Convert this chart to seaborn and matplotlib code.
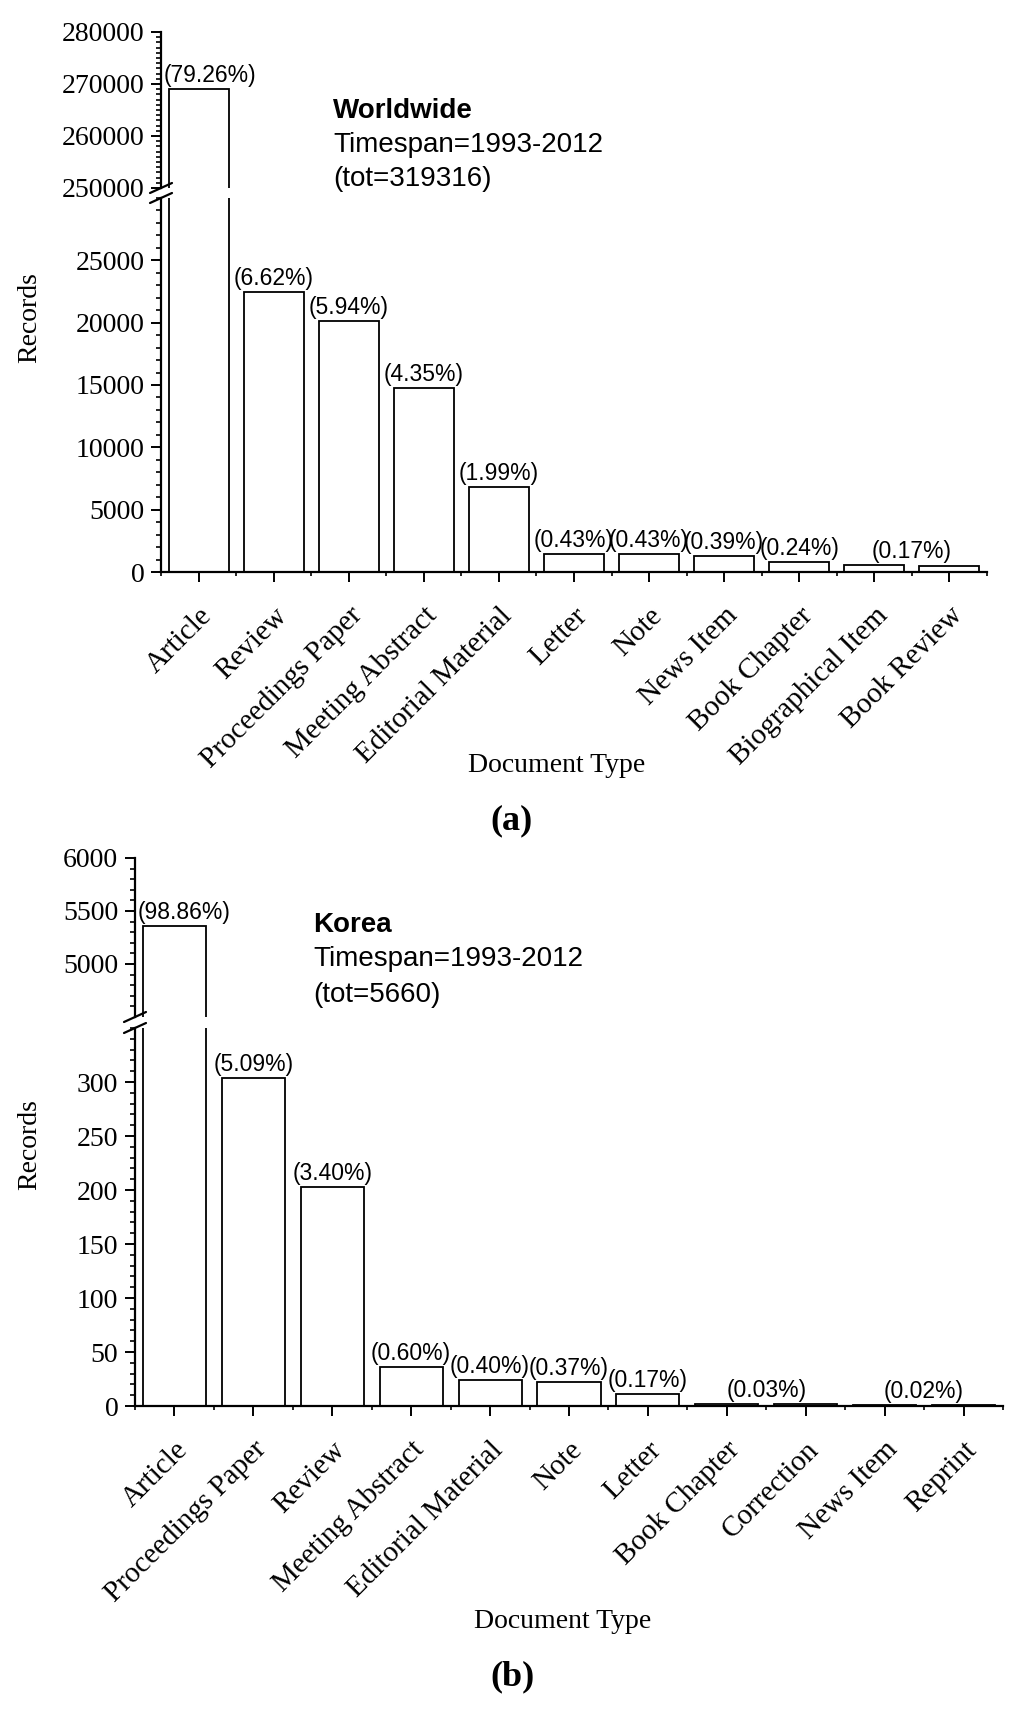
import numpy as np
import pandas as pd
import matplotlib.pyplot as plt
from matplotlib.lines import Line2D
import seaborn as sns

# ---- data (a) worldwide ----
ww_types = ["Article", "Review", "Proceedings Paper", "Meeting Abstract", "Editorial Material",
            "Letter", "Note", "News Item", "Book Chapter", "Biographical Item", "Book Review"]
ww_records = [269000, 22450, 20150, 14750, 6800, 1450, 1430, 1310, 780, 560, 510]
ww_labels = [(["Article"], "(79.26%)"), (["Review"], "(6.62%)"), (["Proceedings Paper"], "(5.94%)"),
             (["Meeting Abstract"], "(4.35%)"), (["Editorial Material"], "(1.99%)"),
             (["Letter"], "(0.43%)"), (["Note"], "(0.43%)"), (["News Item"], "(0.39%)"),
             (["Book Chapter"], "(0.24%)"), (["Biographical Item", "Book Review"], "(0.17%)")]

# ---- data (b) Korea ----
kr_types = ["Article", "Proceedings Paper", "Review", "Meeting Abstract", "Editorial Material",
            "Note", "Letter", "Book Chapter", "Correction", "News Item", "Reprint"]
kr_records = [5358, 304, 203, 36, 24, 22, 11, 2, 2, 1, 1]
kr_labels = [(["Article"], "(98.86%)"), (["Proceedings Paper"], "(5.09%)"), (["Review"], "(3.40%)"),
             (["Meeting Abstract"], "(0.60%)"), (["Editorial Material"], "(0.40%)"),
             (["Note"], "(0.37%)"), (["Letter"], "(0.17%)"),
             (["Book Chapter", "Correction"], "(0.03%)"), (["News Item", "Reprint"], "(0.02%)")]

sns.set_style("ticks")
plt.rcParams['font.family'] = ['Liberation Serif', 'DejaVu Serif']
plt.rcParams['axes.linewidth'] = 1.6
for k in ['text.color', 'axes.labelcolor', 'xtick.color', 'ytick.color', 'axes.edgecolor']:
    plt.rcParams[k] = 'black'

SANS = 'Liberation Sans'
W, H = 1024, 1711
fig = plt.figure(figsize=(W / 100, H / 100), dpi=100)


def px(x0, y0, x1, y1):
    # pixel box -> figure fraction rect
    return [x0 / W, 1 - y1 / H, (x1 - x0) / W, (y1 - y0) / H]


def style_y(ax, major, minor):
    ax.set_yticks(major)
    ax.set_yticks(minor, minor=True)
    ax.tick_params(axis='y', which='major', direction='out', length=7, width=1.4, labelsize=20, pad=5)
    ax.tick_params(axis='y', which='minor', direction='out', length=3.5, width=1.2)


def panel(types, records, labels, box_up, box_lo, lim_up, lim_lo, yt_up, yt_lo):
    df = pd.DataFrame({"type": types, "records": records})
    ax_up = fig.add_axes(px(*box_up))
    ax_lo = fig.add_axes(px(*box_lo))
    for ax in (ax_up, ax_lo):
        sns.barplot(data=df, x="type", y="records", order=types, ax=ax, color="white",
                    edgecolor="black", linewidth=1.3, width=0.8, saturation=1)
        ax.set_xlabel("")
        ax.set_ylabel("")
        ax.set_xlim(-0.5, len(types) - 0.5)
    ax_up.set_ylim(*lim_up)
    ax_lo.set_ylim(*lim_lo)
    sns.despine(ax=ax_up, bottom=True)
    sns.despine(ax=ax_lo)
    ax_up.set_xticks([])
    style_y(ax_up, *yt_up)
    style_y(ax_lo, *yt_lo)

    ax_lo.set_xticks(range(len(types)))
    ax_lo.set_xticks(np.arange(-0.5, len(types), 1), minor=True)
    ax_lo.set_xticklabels(types, rotation=45, ha='right', va='top', rotation_mode='anchor', fontsize=21)
    ax_lo.tick_params(axis='x', which='major', direction='out', length=7, width=1.4, pad=15)
    ax_lo.tick_params(axis='x', which='minor', direction='out', length=3, width=1.2)

    pos = {t: i for i, t in enumerate(types)}
    val = dict(zip(types, records))
    for cats, txt in labels:
        x = np.mean([pos[c] for c in cats])
        y = max(val[c] for c in cats)
        ax = ax_up if y > lim_lo[1] else ax_lo
        if x == 0:
            # first label starts at the y axis instead of overlapping it
            ax.annotate(txt, (-0.5, y), xytext=(2, 1.5), textcoords='offset points', ha='left',
                        va='bottom', fontsize=16.5, family=SANS)
        else:
            ax.annotate(txt, (x, y), xytext=(0, 1.5), textcoords='offset points', ha='center',
                        va='bottom', fontsize=16.5, family=SANS)

    # break marks on the y axis
    for ax, edge in ((ax_up, 0), (ax_lo, 1)):
        p = ax.get_position()
        xc, yc = p.x0, (p.y0 if edge == 0 else p.y1)
        fig.add_artist(Line2D([xc - 11 / W, xc + 11 / W], [yc - 5 / H, yc + 5 / H],
                              color='black', lw=1.6, transform=fig.transFigure))
    return ax_up, ax_lo


panel(ww_types, ww_records, ww_labels,
      (161, 32, 987, 188), (161, 198, 987, 572),
      (250000, 280000), (0, 30000),
      (np.arange(250000, 280001, 10000), np.arange(250000, 280001, 1000)),
      (np.arange(0, 25001, 5000), np.arange(0, 30001, 1000)))

panel(kr_types, kr_records, kr_labels,
      (135, 858, 1003, 1017), (135, 1028, 1003, 1406),
      (4500, 6000), (0, 350),
      (np.arange(5000, 6001, 500), np.arange(4600, 6001, 100)),
      (np.arange(0, 301, 50), np.arange(0, 351, 10)))


# panel annotations
def ftext(x, y, s, **kw):
    fig.text(x / W, 1 - y / H, s, **kw)


ftext(333, 118, "Worldwide", fontsize=20, family=SANS, weight='bold', va='baseline')
ftext(333, 152, "Timespan=1993-2012", fontsize=20, family=SANS, va='baseline')
ftext(333, 186, "(tot=319316)", fontsize=20, family=SANS, va='baseline')
ftext(313, 932, "Korea", fontsize=20, family=SANS, weight='bold', va='baseline')
ftext(313, 966, "Timespan=1993-2012", fontsize=20, family=SANS, va='baseline')
ftext(313, 1002, "(tot=5660)", fontsize=20, family=SANS, va='baseline')

ftext(30, 318, "Records", fontsize=20, rotation=90, ha='center', va='center')
ftext(30, 1145, "Records", fontsize=20, rotation=90, ha='center', va='center')
ftext(557, 772, "Document Type", fontsize=20, ha='center', va='baseline')
ftext(563, 1628, "Document Type", fontsize=20, ha='center', va='baseline')
ftext(512, 829, "(a)", fontsize=26, weight='bold', ha='center', va='baseline')
ftext(512, 1685, "(b)", fontsize=26, weight='bold', ha='center', va='baseline')

fig.savefig("out.png", dpi=100, facecolor='white')
